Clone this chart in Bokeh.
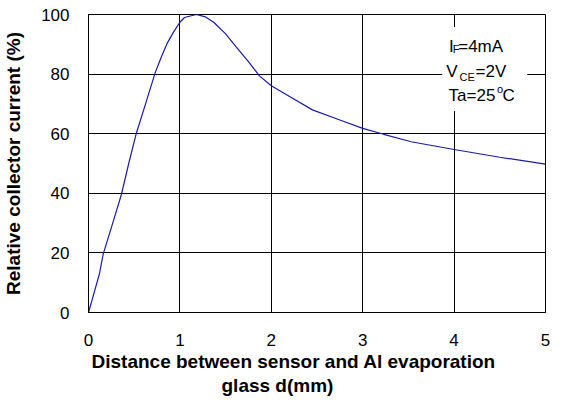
from bokeh.plotting import figure
from bokeh.models import Label, FixedTicker, Title
from bokeh.embed import file_html
from bokeh.resources import INLINE

# data
distance_mm = [0, 0.06, 0.12, 0.16, 0.26, 0.36, 0.44, 0.52, 0.62, 0.73, 0.80, 0.86, 0.93, 1.0,
               1.05, 1.18, 1.28, 1.37, 1.5, 1.62, 1.75, 1.87, 2.0, 2.2, 2.45, 2.75, 3.0,
               3.23, 3.53, 4.0, 4.5, 5.0]
rel_current = [0, 6.5, 13, 19.5, 29.5, 39.6, 50, 59.8, 69.6, 80.5, 86, 90.3, 94.1, 97.4,
               99, 100, 99.2, 97.4, 93.5, 89, 84.2, 79.4, 76.1, 72.5, 68, 64.6, 61.8,
               59.8, 57.3, 54.7, 52.1, 49.8]
x_ticks = [0, 1, 2, 3, 4, 5]
y_ticks = [0, 20, 40, 60, 80, 100]

FONT = "Liberation Sans"

p = figure(width=550, height=397, output_backend="svg", toolbar_location=None,
           x_range=(0, 5), y_range=(0, 100),
           min_border_left=86, min_border_right=5, min_border_top=14, min_border_bottom=82)

p.background_fill_color = "white"
p.border_fill_color = "white"
p.outline_line_color = "black"
p.outline_line_width = 1

for ax, ticks in ((p.xaxis, x_ticks), (p.yaxis, y_ticks)):
    ax.ticker = FixedTicker(ticks=ticks)
    ax.axis_line_color = "black"
    ax.major_tick_line_color = None
    ax.minor_tick_line_color = None
    ax.major_label_text_font = FONT
    ax.major_label_text_font_size = "17px"
    ax.major_label_text_color = "black"
p.xaxis.major_label_standoff = 15
p.yaxis.major_label_standoff = 13

p.yaxis.axis_label = "Relative collector current (%)"
p.yaxis.axis_label_text_font = FONT
p.yaxis.axis_label_text_font_size = "19px"
p.yaxis.axis_label_text_font_style = "bold"
p.yaxis.axis_label_text_color = "black"
p.yaxis.axis_label_standoff = 14

p.xgrid.ticker = FixedTicker(ticks=x_ticks)
p.ygrid.ticker = FixedTicker(ticks=y_ticks)
for g in (p.xgrid, p.ygrid):
    g.grid_line_color = "black"
    g.grid_line_width = 1
    g.grid_line_alpha = 1

p.line(distance_mm, rel_current, line_color="#1a1aa6", line_width=1.2)

# white box behind the conditions text
p.quad(left=[3.87], right=[4.80], bottom=[67.6], top=[95.8],
       fill_color="white", line_color=None)

def lab(x, y, text, size):
    p.add_layout(Label(x=x, y=y, text=text, text_font=FONT,
                       text_font_size=f"{size}px", text_color="black",
                       text_align="left", text_baseline="alphabetic"))

# conditions
lab(3.945, 89.2, "I", 17)
lab(3.985, 88.4, "F", 11)
lab(4.045, 89.2, "=4mA", 17)
lab(3.915, 81.0, "V", 17)
lab(4.06, 78.9, "CE", 11)
lab(4.235, 81.0, "=2V", 17)
lab(3.94, 72.9, "Ta=25", 17)
lab(4.47, 75.0, "o", 11)
lab(4.53, 72.9, "C", 17)

# x axis title, two lines
for txt, off, so in (("Distance between sensor and Al evaporation", 3, 0),
                     ("glass d(mm)", 133, 3)):
    p.add_layout(Title(text=txt, align="left", offset=off, standoff=so,
                       text_font=FONT, text_font_size="19px", text_font_style="bold",
                       text_color="black"), "below")

open("out.html", "w").write(file_html(p, INLINE))
